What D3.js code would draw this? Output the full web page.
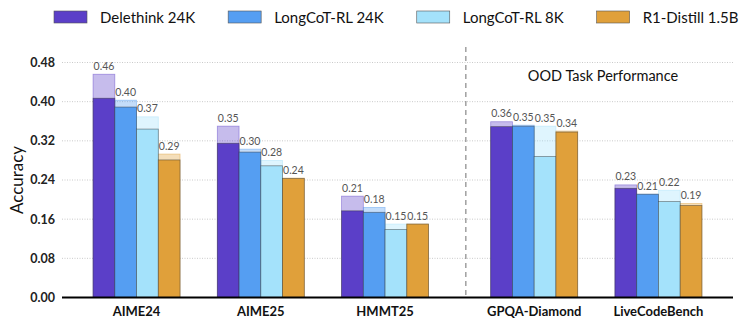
<!DOCTYPE html>
<html>
<head>
<meta charset="utf-8">
<script src="https://cdn.jsdelivr.net/npm/d3@7"></script>
<style>
  body { margin: 0; background: #fff; }
  text { font-family: Lato, "DejaVu Sans", sans-serif; }
</style>
</head>
<body>
<svg id="chart" width="742" height="321"></svg>
<script>
// benchmarks and where they sit on the x axis (the OOD pair is pushed right)
var tasks = ['AIME24', 'AIME25', 'HMMT25', 'GPQA-Diamond', 'LiveCodeBench'];
var taskPos = [0, 1, 2, 3.2, 4.2];
var models = ['Delethink 24K', 'LongCoT-RL 24K', 'LongCoT-RL 8K', 'R1-Distill 1.5B'];
var colors = ['#5b3fc8', '#559ef2', '#a4e2fb', '#e0a03a'];

// solid part = mean accuracy, light part = peak accuracy
var delethinkMean = [0.407, 0.315, 0.177, 0.349, 0.223];
var delethinkPeak = [0.456, 0.350, 0.207, 0.359, 0.230];
var long24Mean = [0.389, 0.297, 0.174, 0.350, 0.211];
var long24Peak = [0.403, 0.303, 0.184, 0.352, 0.211];
var long8Mean = [0.344, 0.269, 0.139, 0.288, 0.196];
var long8Peak = [0.369, 0.280, 0.150, 0.350, 0.219];
var r1Mean = [0.281, 0.243, 0.150, 0.338, 0.188];
var r1Peak = [0.293, 0.244, 0.150, 0.340, 0.192];

var yTicks = [0, 0.08, 0.16, 0.24, 0.32, 0.40, 0.48];

(function () {
	var svg = d3.select('#chart');
	var left = 62, right = 733, bottom = 297.5;

	var x = d3.scaleLinear().domain([-0.6, 4.8]).range([left, right]);
	var y = d3.scaleLinear().domain([0, 0.48]).range([bottom, 62.5]);
	var barW = x(0.175) - x(0);

	var means = [delethinkMean, long24Mean, long8Mean, r1Mean];
	var peaks = [delethinkPeak, long24Peak, long8Peak, r1Peak];
	var bars = [];
	models.forEach(function (m, j) {
		tasks.forEach(function (t, i) {
			bars.push({ m: j, pos: taskPos[i], mean: means[j][i], peak: peaks[j][i] });
		});
	});

	// gridlines
	svg.append('g').selectAll('line')
		.data(yTicks.slice(1))
		.enter().append('line')
		.attr('x1', left).attr('x2', right)
		.attr('y1', function (d) { return y(d); })
		.attr('y2', function (d) { return y(d); })
		.attr('stroke', '#bdbdbd').attr('stroke-width', 0.8)
		.attr('stroke-dasharray', '1,1.5');

	// y tick labels
	svg.append('g').selectAll('text')
		.data(yTicks)
		.enter().append('text')
		.attr('x', 55)
		.attr('y', function (d) { return y(d); })
		.attr('dy', '0.35em')
		.attr('text-anchor', 'end')
		.attr('font-size', 12.5).attr('font-weight', 'bold').attr('fill', '#222')
		.text(d3.format('.2f'));

	svg.append('text')
		.attr('transform', 'translate(23,' + y(0.24) + ') rotate(-90)')
		.attr('text-anchor', 'middle')
		.attr('font-size', 17).attr('fill', '#111')
		.text('Accuracy');

	var bx = function (d) { return x(d.pos) - 2 * barW + d.m * barW; };

	// light (peak) bars
	svg.append('g').selectAll('rect')
		.data(bars)
		.enter().append('rect')
		.attr('x', bx)
		.attr('width', barW)
		.attr('y', function (d) { return y(d.peak); })
		.attr('height', function (d) { return bottom - y(d.peak); })
		.attr('fill', function (d) { return colors[d.m]; })
		.attr('fill-opacity', 0.35)
		.attr('stroke', function (d) { return colors[d.m]; })
		.attr('stroke-opacity', 0.5)
		.attr('stroke-width', 0.8);

	// solid (mean) bars
	svg.append('g').selectAll('rect')
		.data(bars)
		.enter().append('rect')
		.attr('x', bx)
		.attr('width', barW)
		.attr('y', function (d) { return y(d.mean); })
		.attr('height', function (d) { return bottom - y(d.mean); })
		.attr('fill', function (d) { return colors[d.m]; })
		.attr('stroke', '#333')
		.attr('stroke-opacity', 0.55)
		.attr('stroke-width', 0.8);

	// value labels
	svg.append('g').selectAll('text')
		.data(bars)
		.enter().append('text')
		.attr('x', function (d) { return bx(d) + barW / 2; })
		.attr('y', function (d) { return y(d.peak) - 4.5; })
		.attr('text-anchor', 'middle')
		.attr('font-size', 10.5).attr('fill', '#555')
		.text(function (d) { return d3.format('.2f')(d.peak); });

	// divider between in-domain and OOD tasks
	svg.append('line')
		.attr('x1', x(2.65)).attr('x2', x(2.65))
		.attr('y1', 47).attr('y2', bottom)
		.attr('stroke', '#888').attr('stroke-width', 1.2)
		.attr('stroke-dasharray', '5,4');

	svg.append('text')
		.attr('x', 603).attr('y', 81)
		.attr('text-anchor', 'middle')
		.attr('font-size', 14.5).attr('fill', '#111')
		.text('OOD Task Performance');

	// x axis
	svg.append('line')
		.attr('x1', left).attr('x2', right)
		.attr('y1', bottom).attr('y2', bottom)
		.attr('stroke', '#000').attr('stroke-width', 2);

	svg.append('g').selectAll('text')
		.data(tasks)
		.enter().append('text')
		.attr('x', function (d, i) { return x(taskPos[i]); })
		.attr('y', 316)
		.attr('text-anchor', 'middle')
		.attr('font-size', 13).attr('font-weight', 'bold').attr('fill', '#111')
		.text(function (d) { return d; });

	// legend
	var lg = svg.append('g');
	var cx = 54;
	models.forEach(function (m, j) {
		lg.append('rect')
			.attr('x', cx).attr('y', 11)
			.attr('width', 33).attr('height', 12)
			.attr('fill', colors[j])
			.attr('stroke', '#555').attr('stroke-width', 0.6);
		var t = lg.append('text')
			.attr('x', cx + 46).attr('y', 22.5)
			.attr('font-size', 15).attr('fill', '#111')
			.text(m);
		cx += 46 + t.node().getComputedTextLength() + 33;
	});
}());
</script>
</body>
</html>
